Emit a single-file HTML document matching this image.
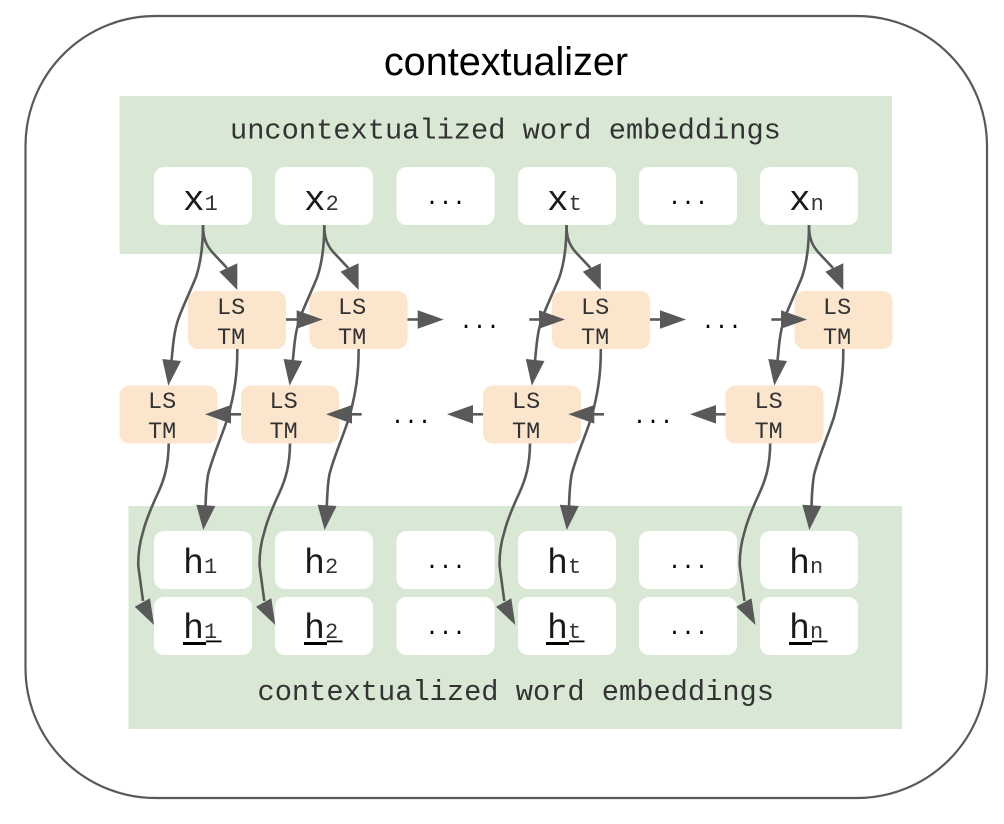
<!DOCTYPE html>
<html><head><meta charset="utf-8"><style>
html,body{margin:0;padding:0;background:#fff;width:1004px;height:824px;overflow:hidden}
svg{display:block}
.m{font-family:"Liberation Mono",monospace;fill:#1a1a1a}
.big{font-size:36px}
.bh{font-size:35px}
.sub{font-size:22px;fill:#333}
.ls{font-size:23.5px;fill:#333}
.dot{font-size:22.5px;fill:#000}
.lab{font-size:28.7px;fill:#333}
.c{fill:none;stroke:#595959;stroke-width:2.6}
.a{fill:#595959}
</style></head><body>
<svg width="1004" height="824" viewBox="0 0 1004 824" xmlns="http://www.w3.org/2000/svg">
<rect x="25.5" y="16" width="961.5" height="782" rx="130" ry="130" fill="#fff" stroke="#595959" stroke-width="2.2"/>
<text x="506" y="75" text-anchor="middle" font-family="'Liberation Sans',Arial,sans-serif" font-size="39.6" fill="#000">contextualizer</text>

<rect x="119.5" y="96" width="772.5" height="158" fill="#d9e8d5"/>
<rect x="128.5" y="506" width="773.5" height="223" fill="#d9e8d5"/>
<text class="m lab" x="230" y="138.5">uncontextualized word embeddings</text>
<text class="m lab" x="257.5" y="700">contextualized word embeddings</text>

<g fill="#fff">
<rect x="154" y="167" width="98" height="58" rx="10"/><rect x="275" y="167" width="98" height="58" rx="10"/><rect x="396.5" y="167" width="98" height="58" rx="10"/><rect x="518" y="167" width="98" height="58" rx="10"/><rect x="639" y="167" width="98" height="58" rx="10"/><rect x="760" y="167" width="98" height="58" rx="10"/>
<rect x="154" y="531" width="98" height="58" rx="10"/><rect x="275" y="531" width="98" height="58" rx="10"/><rect x="396.5" y="531" width="98" height="58" rx="10"/><rect x="518" y="531" width="98" height="58" rx="10"/><rect x="639" y="531" width="98" height="58" rx="10"/><rect x="760" y="531" width="98" height="58" rx="10"/>
<rect x="154" y="597" width="98" height="58" rx="10"/><rect x="275" y="597" width="98" height="58" rx="10"/><rect x="396.5" y="597" width="98" height="58" rx="10"/><rect x="518" y="597" width="98" height="58" rx="10"/><rect x="639" y="597" width="98" height="58" rx="10"/><rect x="760" y="597" width="98" height="58" rx="10"/>
</g>
<g fill="#fce5cd">
<rect x="188" y="291" width="98" height="58" rx="10"/><rect x="309.5" y="291" width="98" height="58" rx="10"/><rect x="552" y="291" width="98" height="58" rx="10"/><rect x="794.5" y="291" width="98" height="58" rx="10"/>
<rect x="119.5" y="385.5" width="98" height="58" rx="10"/><rect x="241" y="385.5" width="98" height="58" rx="10"/><rect x="483" y="385.5" width="98" height="58" rx="10"/><rect x="725.5" y="385.5" width="98" height="58" rx="10"/>
</g>

<!-- word labels -->
<g class="m">
<text x="183" y="210"><tspan class="big">x</tspan><tspan class="sub">1</tspan></text>
<text x="304" y="210"><tspan class="big">x</tspan><tspan class="sub">2</tspan></text>
<text x="547" y="210"><tspan class="big">x</tspan><tspan class="sub">t</tspan></text>
<text x="789" y="210"><tspan class="big">x</tspan><tspan class="sub">n</tspan></text>
<text x="183" y="573"><tspan class="bh">h</tspan><tspan class="sub">1</tspan></text>
<text x="304" y="573"><tspan class="bh">h</tspan><tspan class="sub">2</tspan></text>
<text x="547" y="573"><tspan class="bh">h</tspan><tspan class="sub">t</tspan></text>
<text x="789" y="573"><tspan class="bh">h</tspan><tspan class="sub">n</tspan></text>
<text x="183" y="638"><tspan class="bh">h</tspan><tspan class="sub">1</tspan></text>
<text x="304" y="638"><tspan class="bh">h</tspan><tspan class="sub">2</tspan></text>
<text x="547" y="638"><tspan class="bh">h</tspan><tspan class="sub">t</tspan></text>
<text x="789" y="638"><tspan class="bh">h</tspan><tspan class="sub">n</tspan></text>
</g>
<g fill="#000">
<rect x="183" y="642" width="23" height="3"/><rect x="206" y="640.5" width="15.5" height="1.8"/>
<rect x="304" y="642" width="23" height="3"/><rect x="327" y="640.5" width="15.5" height="1.8"/>
<rect x="546" y="642" width="23" height="3"/><rect x="569" y="640.5" width="15.5" height="1.8"/>
<rect x="789" y="642" width="23" height="3"/><rect x="812" y="640.5" width="15.5" height="1.8"/>
</g>

<!-- dots -->
<g class="m dot" text-anchor="middle">
<text x="445.5" y="204">...</text><text x="688" y="204">...</text>
<text x="445.5" y="568">...</text><text x="688" y="568">...</text>
<text x="445.5" y="634">...</text><text x="688" y="634">...</text>
<text x="479.5" y="328">...</text><text x="721.5" y="328">...</text>
<text x="411" y="423">...</text><text x="653" y="423">...</text>
</g>

<!-- LSTM labels -->
<g class="m ls">
<text x="217" y="314">LS</text><text x="217" y="344">TM</text>
<text x="338" y="314">LS</text><text x="338" y="344">TM</text>
<text x="581" y="314">LS</text><text x="581" y="344">TM</text>
<text x="823" y="314">LS</text><text x="823" y="344">TM</text>
<text x="148" y="408">LS</text><text x="148" y="438">TM</text>
<text x="269.5" y="408">LS</text><text x="269.5" y="438">TM</text>
<text x="512" y="408">LS</text><text x="512" y="438">TM</text>
<text x="754.5" y="408">LS</text><text x="754.5" y="438">TM</text>
</g>

<!-- curved connectors -->
<g>
<path class="c" d="M203,225 C203,238 206,245 212,252 L227,268"/>
<path class="a" d="M237.3,290 L219.3,271.7 L237.3,263.3Z"/>
<path class="c" d="M203,225 C203,250 200,265 196,277 C190,292 182,308 178,320 C174,332 173,345 171.5,361"/>
<path class="a" d="M168.3,385.7 L162.3,359 L181,361Z"/>
<path class="c" d="M237.3,349 C237.5,375 234,395 228,417 C222,436 212,458 208,475 C206,487 206,495 205.5,506"/>
<path class="a" d="M203.3,530 L196.3,504.7 L215.3,506Z"/>
<path class="c" d="M168.7,443.5 C168.5,466 164,480 158,493 C151,508 146,520 143,532 C139,545 138,555 138.3,566 L143,601"/>
<path class="a" d="M154,625 L134.7,606.7 L150,598.3Z"/>
</g>
<g transform="translate(121.3 0)">
<path class="c" d="M203,225 C203,238 206,245 212,252 L227,268"/>
<path class="a" d="M237.3,290 L219.3,271.7 L237.3,263.3Z"/>
<path class="c" d="M203,225 C203,250 200,265 196,277 C190,292 182,308 178,320 C174,332 173,345 171.5,361"/>
<path class="a" d="M168.3,385.7 L162.3,359 L181,361Z"/>
<path class="c" d="M237.3,349 C237.5,375 234,395 228,417 C222,436 212,458 208,475 C206,487 206,495 205.5,506"/>
<path class="a" d="M203.3,530 L196.3,504.7 L215.3,506Z"/>
<path class="c" d="M168.7,443.5 C168.5,466 164,480 158,493 C151,508 146,520 143,532 C139,545 138,555 138.3,566 L143,601"/>
<path class="a" d="M154,625 L134.7,606.7 L150,598.3Z"/>
</g>
<g transform="translate(363.5 0)">
<path class="c" d="M203,225 C203,238 206,245 212,252 L227,268"/>
<path class="a" d="M237.3,290 L219.3,271.7 L237.3,263.3Z"/>
<path class="c" d="M203,225 C203,250 200,265 196,277 C190,292 182,308 178,320 C174,332 173,345 171.5,361"/>
<path class="a" d="M168.3,385.7 L162.3,359 L181,361Z"/>
<path class="c" d="M237.3,349 C237.5,375 234,395 228,417 C222,436 212,458 208,475 C206,487 206,495 205.5,506"/>
<path class="a" d="M203.3,530 L196.3,504.7 L215.3,506Z"/>
</g>
<g transform="translate(361.3 0)">
<path class="c" d="M168.7,443.5 C168.5,466 164,480 158,493 C151,508 146,520 143,532 C139,545 138,555 138.3,566 L143,601"/>
<path class="a" d="M154,625 L134.7,606.7 L150,598.3Z"/>
</g>
<g transform="translate(606 0)">
<path class="c" d="M203,225 C203,238 206,245 212,252 L227,268"/>
<path class="a" d="M237.3,290 L219.3,271.7 L237.3,263.3Z"/>
<path class="c" d="M203,225 C203,250 200,265 196,277 C190,292 182,308 178,320 C174,332 173,345 171.5,361"/>
<path class="a" d="M168.3,385.7 L162.3,359 L181,361Z"/>
<path class="c" d="M237.3,349 C237.5,375 234,395 228,417 C222,436 212,458 208,475 C206,487 206,495 205.5,506"/>
<path class="a" d="M203.3,530 L196.3,504.7 L215.3,506Z"/>
</g>
<g transform="translate(601.5 0)">
<path class="c" d="M168.7,443.5 C168.5,466 164,480 158,493 C151,508 146,520 143,532 C139,545 138,555 138.3,566 L143,601"/>
<path class="a" d="M154,625 L134.7,606.7 L150,598.3Z"/>
</g>

<!-- horizontal top row -->
<path class="c" d="M286,319.5H298"/><path class="a" d="M322.7,319.5L296.7,310.2V328.8Z"/>
<path class="c" d="M407.5,319.5H419"/><path class="a" d="M443.7,319.5L417.7,310.2V328.8Z"/>
<path class="c" d="M529.3,319.5H540"/><path class="a" d="M565,319.5L539,310.2V328.8Z"/>
<path class="c" d="M650,319.5H661"/><path class="a" d="M686,319.5L660,310.2V328.8Z"/>
<path class="c" d="M771.3,319.5H782"/><path class="a" d="M807,319.5L781,310.2V328.8Z"/>
<!-- horizontal bottom row -->
<path class="c" d="M241,414.3H230"/><path class="a" d="M205,414.3L231,405V423.6Z"/>
<path class="c" d="M361.7,414.3H351"/><path class="a" d="M326,414.3L352,405V423.6Z"/>
<path class="c" d="M483,414.3H472"/><path class="a" d="M447,414.3L473,405V423.6Z"/>
<path class="c" d="M604,414.3H593"/><path class="a" d="M568.3,414.3L594.3,405V423.6Z"/>
<path class="c" d="M725.5,414.3H715"/><path class="a" d="M690,414.3L716,405V423.6Z"/>
</svg>
</body></html>
